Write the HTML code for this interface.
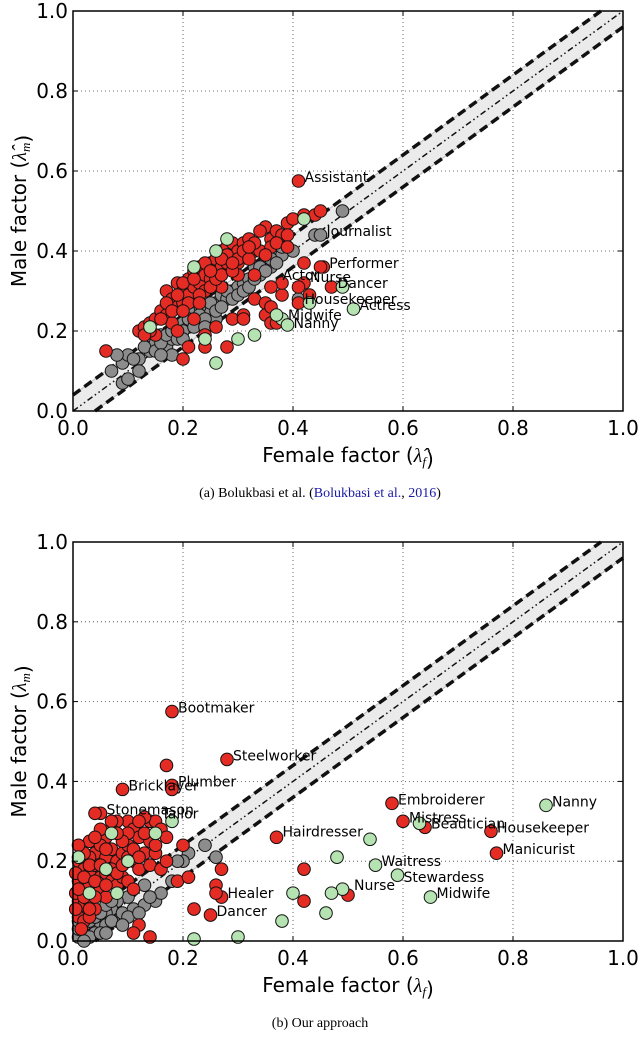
<!DOCTYPE html>
<html><head><meta charset="utf-8"><style>
body{margin:0;background:#fff;width:640px;height:1035px;overflow:hidden}
svg text{font-family:"DejaVu Sans","Liberation Sans",sans-serif}
.cap{font-family:"Liberation Serif",serif;font-size:14px}
</style></head><body>
<svg id="s" width="640" height="1035" xmlns="http://www.w3.org/2000/svg"></svg>
<script>
// ---- Chart A data (Bolukbasi) ----
const aRed=[[0.41,0.575],[0.455,0.36],[0.42,0.32],[0.47,0.31],[0.41,0.27],[0.45,0.36],[0.43,0.29],
[0.06,0.15],[0.12,0.2],[0.13,0.21],[0.14,0.22],[0.15,0.23],[0.16,0.25],[0.17,0.24],[0.17,0.3],[0.18,0.28],[0.19,0.26],[0.19,0.32],
[0.2,0.3],[0.2,0.27],[0.21,0.33],[0.21,0.29],[0.22,0.31],[0.22,0.35],[0.23,0.36],[0.23,0.32],[0.24,0.34],[0.24,0.3],[0.25,0.37],
[0.25,0.33],[0.26,0.35],[0.26,0.38],[0.27,0.36],[0.27,0.4],[0.28,0.41],[0.28,0.37],[0.29,0.39],[0.29,0.42],[0.3,0.4],[0.3,0.37],
[0.31,0.42],[0.32,0.43],[0.33,0.4],[0.34,0.4],[0.35,0.46],[0.36,0.43],[0.37,0.45],[0.38,0.44],[0.39,0.47],[0.4,0.48],[0.42,0.49],
[0.44,0.49],[0.45,0.5],[0.18,0.22],[0.2,0.13],[0.21,0.16],[0.24,0.19],[0.24,0.16],[0.28,0.16],[0.29,0.23],[0.31,0.24],[0.31,0.23],
[0.33,0.28],[0.35,0.27],[0.35,0.24],[0.36,0.26],[0.36,0.22],[0.37,0.22],[0.38,0.29],[0.38,0.32],[0.36,0.31],[0.33,0.34],[0.22,0.23],
[0.19,0.2],[0.15,0.19],[0.26,0.21],[0.41,0.31],[0.42,0.37],[0.3,0.34],[0.27,0.31],
[0.16,0.23],[0.17,0.27],[0.18,0.25],[0.19,0.29],[0.2,0.32],[0.21,0.27],[0.22,0.33],[0.23,0.29],[0.24,0.37],[0.25,0.31],[0.26,0.33],
[0.27,0.34],[0.28,0.39],[0.29,0.35],[0.3,0.38],[0.31,0.4],[0.32,0.38],[0.33,0.42],[0.34,0.45],[0.36,0.41],[0.37,0.42],[0.39,0.44],
[0.14,0.2],[0.13,0.19],[0.2,0.25],[0.23,0.27],[0.25,0.35],[0.27,0.38],[0.29,0.37],[0.32,0.41],[0.35,0.39],[0.39,0.41]];
const aGray=[[0.09,0.07],[0.1,0.08],[0.09,0.12],[0.1,0.14],[0.12,0.13],[0.14,0.15],[0.15,0.17],[0.16,0.19],[0.17,0.16],[0.18,0.18],
[0.19,0.2],[0.2,0.22],[0.21,0.21],[0.22,0.24],[0.23,0.22],[0.24,0.26],[0.25,0.25],[0.26,0.27],[0.27,0.29],[0.28,0.28],[0.29,0.3],
[0.3,0.31],[0.31,0.32],[0.32,0.33],[0.33,0.36],[0.34,0.34],[0.35,0.37],[0.36,0.36],[0.37,0.4],[0.38,0.39],[0.39,0.41],[0.44,0.44],
[0.45,0.44],[0.49,0.5],[0.41,0.28],[0.26,0.23],[0.23,0.26],[0.18,0.14],[0.07,0.1],[0.21,0.25],
[0.13,0.16],[0.15,0.15],[0.16,0.17],[0.17,0.19],[0.18,0.2],[0.19,0.18],[0.2,0.2],[0.21,0.23],[0.22,0.21],[0.23,0.24],[0.24,0.23],
[0.25,0.27],[0.26,0.25],[0.27,0.26],[0.28,0.3],[0.29,0.28],[0.3,0.29],[0.31,0.3],[0.32,0.31],[0.33,0.33],[0.34,0.36],[0.35,0.35],
[0.36,0.38],[0.37,0.37],[0.38,0.41],[0.4,0.4],[0.11,0.13],[0.08,0.14],[0.12,0.1],[0.16,0.14],[0.2,0.18],[0.24,0.21]];
const aGreen=[[0.51,0.255],[0.38,0.23],[0.39,0.215],[0.49,0.31],[0.42,0.48],[0.26,0.12],[0.3,0.18],[0.33,0.19],[0.24,0.18],[0.28,0.43],[0.26,0.4],[0.43,0.27],[0.37,0.24],[0.22,0.36],[0.14,0.21]];
const aLabels=["Assistant","Journalist","Performer","Actor","Nurse","Dancer","Housekeeper","Actress","Midwife","Nanny"];
const aLabelPos=[[0.41,0.575],[0.45,0.44],[0.455,0.36],[0.37,0.33],[0.42,0.325],[0.47,0.31],[0.41,0.27],[0.51,0.255],[0.38,0.23],[0.39,0.21]];
// ---- Chart B data (ours) ----
const bRed=[[0.18,0.575],[0.28,0.455],[0.09,0.38],[0.18,0.39],[0.18,0.38],[0.17,0.44],[0.05,0.32],[0.04,0.32],[0.37,0.26],[0.27,0.11],[0.25,0.065],
[0.58,0.345],[0.6,0.3],[0.64,0.285],[0.76,0.275],[0.77,0.22],[0.5,0.115],[0.42,0.18],[0.42,0.1],[0.27,0.18],[0.26,0.14],[0.26,0.12],[0.22,0.08],
[0.2,0.24],[0.19,0.15],[0.21,0.16],[0.14,0.3],[0.15,0.3],[0.13,0.31],[0.1,0.3],[0.11,0.28],[0.12,0.26],[0.08,0.3],[0.07,0.28],[0.06,0.26],
[0.03,0.25],[0.04,0.22],[0.05,0.24],[0.06,0.21],[0.07,0.23],[0.08,0.2],[0.09,0.22],[0.1,0.24],[0.11,0.2],[0.12,0.18],[0.13,0.22],[0.14,0.19],
[0.15,0.22],[0.16,0.18],[0.17,0.2],[0.01,0.2],[0.02,0.18],[0.03,0.17],[0.04,0.19],[0.05,0.16],[0.06,0.17],[0.07,0.15],[0.08,0.14],[0.09,0.16],
[0.1,0.15],[0.01,0.15],[0.02,0.13],[0.03,0.14],[0.04,0.12],[0.05,0.13],[0.06,0.11],[0.01,0.1],[0.02,0.09],[0.03,0.1],[0.04,0.08],[0.01,0.06],
[0.02,0.05],[0.005,0.12],[0.005,0.08],[0.005,0.17],[0.12,0.04],[0.14,0.01],[0.11,0.02],[0.03,0.06],[0.11,0.13],
[0.12,0.3],[0.1,0.27],[0.09,0.25],[0.08,0.27],[0.07,0.3],[0.05,0.28],[0.06,0.23],[0.04,0.26],[0.03,0.21],[0.02,0.22],[0.01,0.24],
[0.02,0.16],[0.03,0.19],[0.04,0.15],[0.05,0.19],[0.06,0.14],[0.07,0.18],[0.08,0.17],[0.09,0.19],[0.02,0.11],[0.03,0.08],[0.01,0.13],
[0.015,0.03],[0.04,0.11],[0.16,0.28],[0.17,0.26],[0.14,0.25],[0.13,0.27],[0.15,0.24],[0.1,0.21],[0.11,0.23],[0.12,0.21]];
const bGray=[[0.21,0.22],[0.24,0.24],[0.26,0.21],[0.2,0.2],[0.19,0.2],[0.13,0.14],[0.15,0.1],[0.1,0.11],[0.08,0.1],[0.07,0.08],[0.06,0.07],
[0.05,0.05],[0.04,0.04],[0.03,0.03],[0.02,0.02],[0.01,0.01],[0.02,0.04],[0.04,0.02],[0.06,0.04],[0.08,0.05],[0.09,0.07],[0.11,0.08],
[0.03,0.01],[0.01,0.03],[0.05,0.02],[0.07,0.05],[0.1,0.06],[0.13,0.09],[0.16,0.12],[0.18,0.15],
[0.02,0.06],[0.03,0.05],[0.04,0.06],[0.05,0.07],[0.06,0.09],[0.07,0.1],[0.01,0.05],[0.02,0.0],[0.06,0.02],[0.09,0.04],[0.12,0.07],[0.14,0.11]];
const bGreen=[[0.86,0.34],[0.55,0.19],[0.59,0.165],[0.65,0.11],[0.63,0.295],[0.54,0.255],[0.48,0.21],[0.49,0.13],[0.47,0.12],[0.4,0.12],
[0.46,0.07],[0.38,0.05],[0.22,0.005],[0.3,0.01],[0.18,0.3],[0.15,0.27],[0.07,0.27],[0.01,0.21],[0.1,0.2],[0.06,0.18],[0.03,0.12],[0.08,0.12]];
const bLabels=["Bootmaker","Steelworker","Bricklayer","Plumber","Stonemason","Tailor","Hairdresser","Healer","Dancer","Embroiderer","Mistress","Beautician","Housekeeper","Nanny","Manicurist","Waitress","Stewardess","Nurse","Midwife"];
const bLabelPos=[[0.18,0.575],[0.28,0.455],[0.09,0.38],[0.18,0.39],[0.05,0.32],[0.15,0.31],[0.37,0.265],[0.27,0.11],[0.25,0.065],[0.58,0.345],[0.6,0.3],[0.64,0.285],[0.76,0.275],[0.86,0.34],[0.77,0.22],[0.55,0.19],[0.59,0.15],[0.5,0.13],[0.65,0.11]];
const ticks=[0,0.2,0.4,0.6,0.8,1.0];
const tickLabels=["0.0","0.2","0.4","0.6","0.8","1.0"];

const NS="http://www.w3.org/2000/svg";
const svg=document.getElementById('s');
function mk(tag,attrs,parent){const e=document.createElementNS(NS,tag);for(const k in attrs)e.setAttribute(k,attrs[k]);(parent||svg).appendChild(e);return e;}

function chart(cfg){
  const X0=73,X1=623,Y0=cfg.y0,Y1=cfg.y1;
  const sx=v=>X0+v*(X1-X0), sy=v=>Y0-v*(Y0-Y1);
  const g=mk('g',{});
  
  
  ticks.forEach((t,i)=>{
    if(i>0&&i<5){
      const gl=mk('line',{x1:sx(t),x2:sx(t),y1:Y0,y2:Y1,stroke:'#444','stroke-width':0.8,'stroke-dasharray':'1,3'},g);
      
      const gh=mk('line',{x1:X0,x2:X1,y1:sy(t),y2:sy(t),stroke:'#444','stroke-width':0.8,'stroke-dasharray':'1,3'},g);
      
    }
  });
  const d=0.04;
  const band=mk('polygon',{points:`${sx(0)},${sy(d)} ${sx(1-d)},${sy(1)} ${sx(1)},${sy(1)} ${sx(1)},${sy(1-d)} ${sx(d)},${sy(0)} ${sx(0)},${sy(0)}`,fill:'#ebebeb',stroke:'#bbb','stroke-width':1},g);
  
  const dl=mk('line',{x1:sx(0),y1:sy(0),x2:sx(1),y2:sy(1),stroke:'#111','stroke-width':1.5,'stroke-dasharray':'6,3,1.5,3,1.5,3'},g);
  
  const u=mk('line',{x1:sx(0),y1:sy(d),x2:sx(1-d),y2:sy(1),stroke:'#111','stroke-width':3.5,'stroke-dasharray':'9,5'},g);
  
  const l=mk('line',{x1:sx(d),y1:sy(0),x2:sx(1),y2:sy(1-d),stroke:'#111','stroke-width':3.5,'stroke-dasharray':'9,5'},g);
  
  const draw=(arr,col,name)=>arr.forEach(p=>{
    const c=mk('circle',{cx:sx(p[0]),cy:sy(p[1]),r:6.3,fill:col,stroke:'#111','stroke-width':1},g);
    
    
  });
  draw(cfg.gray,'#8c8c8c','neutral-point');
  draw(cfg.red,'#e42b24','male-point');
  draw(cfg.green,'#b5e3b1','female-point');
  cfg.labels.forEach((txt,i)=>{
    const p=cfg.lpos[i];
    const t=mk('text',{x:sx(p[0])+6,y:sy(p[1])+1,'font-size':14,fill:'#000'},g);
    t.textContent=txt;
    
    
  });
  const fr=mk('rect',{x:X0,y:Y1,width:X1-X0,height:Y0-Y1,fill:'none',stroke:'#000','stroke-width':1.5},g);
  
  ticks.forEach((t,i)=>{
    mk('line',{x1:sx(t),x2:sx(t),y1:Y0,y2:Y0-5,stroke:'#000'},g);
    mk('line',{x1:sx(t),x2:sx(t),y1:Y1,y2:Y1+5,stroke:'#000'},g);
    mk('line',{x1:X0,x2:X0+5,y1:sy(t),y2:sy(t),stroke:'#000'},g);
    mk('line',{x1:X1,x2:X1-5,y1:sy(t),y2:sy(t),stroke:'#000'},g);
    const xt=mk('text',{x:sx(t),y:Y0+24,'font-size':20,'text-anchor':'middle'},g);
    xt.textContent=tickLabels[i];
    
    const yt=mk('text',{x:X0-5,y:sy(t)+7,'font-size':20,'text-anchor':'end'},g);
    yt.textContent=tickLabels[i];
    
  });
  const xl=mk('text',{x:348,y:Y0+51,'font-size':20,'text-anchor':'middle'},g);
  xl.innerHTML='Female factor ('+cfg.xsym+')';
  
  const yl=mk('text',{x:0,y:0,'font-size':20,'text-anchor':'middle',transform:`translate(26,${(Y0+Y1)/2}) rotate(-90)`},g);
  yl.innerHTML='Male factor ('+cfg.ysym+')';
  
}
chart({name:'chart-bolukbasi',y0:411,y1:11,red:aRed,gray:aGray,green:aGreen,labels:aLabels,lpos:aLabelPos,
  xsym:'<tspan font-family="Liberation Serif" font-style="italic">λ̂</tspan><tspan font-family="Liberation Serif" font-style="italic" font-size="13" dy="4">f</tspan><tspan dy="-4"></tspan>',
  ysym:'<tspan font-family="Liberation Serif" font-style="italic">λ̂</tspan><tspan font-family="Liberation Serif" font-style="italic" font-size="13" dy="4">m</tspan><tspan dy="-4"></tspan>'});
chart({name:'chart-our-approach',y0:941,y1:542,red:bRed,gray:bGray,green:bGreen,labels:bLabels,lpos:bLabelPos,
  xsym:'<tspan font-family="Liberation Serif" font-style="italic">λ</tspan><tspan font-family="Liberation Serif" font-style="italic" font-size="13" dy="4">f</tspan><tspan dy="-4"></tspan>',
  ysym:'<tspan font-family="Liberation Serif" font-style="italic">λ</tspan><tspan font-family="Liberation Serif" font-style="italic" font-size="13" dy="4">m</tspan><tspan dy="-4"></tspan>'});
const c1=mk('text',{x:320,y:497,'text-anchor':'middle',class:'cap'});
c1.innerHTML='(a) Bolukbasi et al. (<tspan fill="#1a1aa6">Bolukbasi et al.</tspan>, <tspan fill="#1a1aa6">2016</tspan>)';

const c2=mk('text',{x:320,y:1027,'text-anchor':'middle',class:'cap'});
c2.textContent='(b) Our approach';

</script>
</body></html>
